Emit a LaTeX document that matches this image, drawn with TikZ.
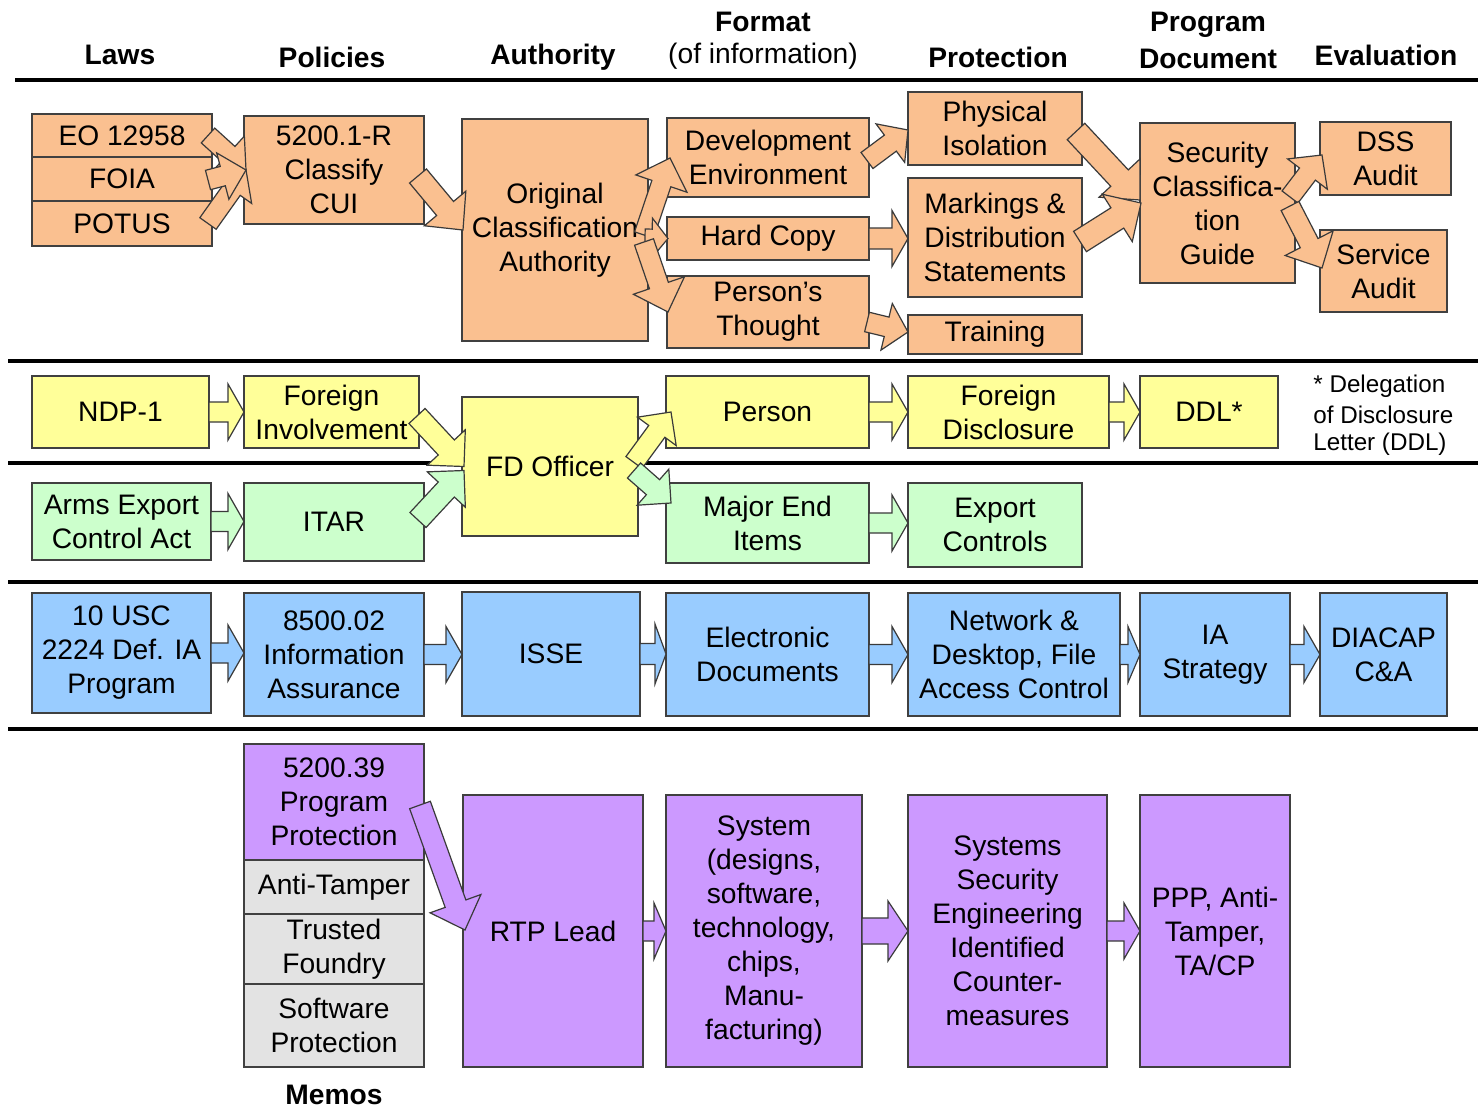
\documentclass[tikz,border=0pt]{standalone}
\usepackage{fontspec}
\setmainfont{Liberation Sans}
\usetikzlibrary{calc}

\definecolor{cOrange}{HTML}{FAC090}
\definecolor{cYellow}{HTML}{FFFF99}
\definecolor{cGreen}{HTML}{CCFFCC}
\definecolor{cBlue}{HTML}{99CCFF}
\definecolor{cPurple}{HTML}{CC99FF}
\definecolor{cGray}{HTML}{E3E3E3}
\definecolor{cEdge}{HTML}{404040}

\newcommand\boxfont{\fontsize{14.1pt}{17pt}\selectfont}
\newcommand\notefont{\fontsize{12.1pt}{14.5pt}\selectfont}

\tikzset{
  box/.style={draw=cEdge, line width=0.8pt, inner sep=0pt, outer sep=0pt,
              align=center, font=\boxfont},
  obox/.style={box, fill=cOrange},
  ybox/.style={box, fill=cYellow},
  gbox/.style={box, fill=cGreen},
  bbox/.style={box, fill=cBlue},
  pbox/.style={box, fill=cPurple},
  greybox/.style={box, fill=cGray},
  hdr/.style={font=\boxfont\bfseries, inner sep=0pt},
  hdrplain/.style={font=\boxfont, inner sep=0pt},
  notetext/.style={font=\notefont, inner sep=0pt, anchor=west},
  rule/.style={line width=1.6pt, black},
  arrowline/.style={draw=cEdge!90!black, line width=0.6pt, line join=miter}
}

% box by its corners, in pixel units: name, style, x1, y1, x2, y2, text
\newcommand\cbox[7]{%
  \node[#2, minimum width={(#5-#3)*0.5pt}, minimum height={(#6-#4)*0.5pt}]
    (#1) at ({(#3+#5)/2},{(#4+#6)/2}) {#7};}

% block arrow: fill, start, tip, shaft half width, head half width, head length
\newcommand\barrow[6]{%
  \path #2 coordinate (ba-s) #3 coordinate (ba-e);
  \path ($(ba-e)!#6!(ba-s)$) coordinate (ba-n);
  \draw[arrowline, fill=#1]
    ($(ba-s)!#4!90:(ba-e)$) -- ($(ba-n)!#4!90:(ba-e)$) --
    ($(ba-n)!#5!90:(ba-e)$) -- (ba-e) --
    ($(ba-n)!#5!-90:(ba-e)$) -- ($(ba-n)!#4!-90:(ba-e)$) --
    ($(ba-s)!#4!-90:(ba-e)$) -- cycle;}

% straight horizontal block arrow between two boxes
\newcommand\harrow[3]{\barrow{#1}{(#2.east)}{(#3.west |- #2.east)}{5pt}{14pt}{8pt}}

\begin{document}
\begin{tikzpicture}[x=0.5pt, y=-0.5pt]
\useasboundingbox[fill=white] (0,0) rectangle (1478,1108);

% column headings
\node[hdr] (hLaws) at (120,55) {Laws};
\node[hdr] (hPol) at (332,57) {Policies};
\node[hdr] (hAuth) at (553,57) {Authority};
\node[hdr] (hFmt) at (763,22) {Format};
\node[hdrplain] (hFmt2) at (763,56) {(of information)};
\node[hdr] (hProt) at (998,57) {Protection};
\node[hdr] (hProg) at (1208,25) {Program};
\node[hdr] (hDoc) at (1208,59) {Document};
\node[hdr] (hEval) at (1386,55) {Evaluation};

% row separators
\draw[rule, line width=1.9pt] (15,80) -- (1478,80);
\draw[rule] (8,361) -- (1478,361);
\draw[rule] (8,463) -- (1478,463);
\draw[rule] (8,582) -- (1478,582);
\draw[rule] (8,729) -- (1478,729);

% classification row
\cbox{eo}{obox}{32}{114}{212}{157}{EO 12958}
\cbox{foia}{obox}{32}{157}{212}{201}{FOIA}
\cbox{potus}{obox}{32}{201}{212}{246}{POTUS}
\cbox{cui}{obox}{244}{116}{424}{224}{5200.1-R\\Classify\\CUI}
\cbox{oca}{obox}{462}{119}{648}{341}{Original\\Classification\\Authority}
\cbox{dev}{obox}{667}{118}{869}{197}{Development\\Environment}
\cbox{hard}{obox}{667}{217}{869}{260}{Hard Copy}
\cbox{thought}{obox}{667}{276}{869}{348}{Person’s\\Thought}
\cbox{phys}{obox}{908}{92}{1082}{165}{Physical\\Isolation}
\cbox{mark}{obox}{908}{178}{1082}{297}{Markings \&\\Distribution\\Statements}
\cbox{train}{obox}{908}{315}{1082}{354}{Training}
\cbox{scg}{obox}{1140}{123}{1295}{283}{Security\\Classifica-\\tion\\Guide}
\cbox{dss}{obox}{1320}{122}{1451}{195}{DSS\\Audit}
\cbox{svc}{obox}{1320}{230}{1447}{312}{Service\\Audit}

% foreign disclosure row
\cbox{ndp}{ybox}{32}{376}{209}{448}{NDP-1}
\cbox{finv}{ybox}{244}{376}{419}{448}{Foreign\\Involvement}
\cbox{fdo}{ybox}{462}{397}{638}{536}{FD Officer}
\cbox{person}{ybox}{666}{376}{869}{448}{Person}
\cbox{fdisc}{ybox}{908}{376}{1109}{448}{Foreign\\Disclosure}
\cbox{ddl}{ybox}{1140}{376}{1278}{448}{DDL*}
\node[notetext] (n1) at (1313,386) {* Delegation};
\node[notetext] (n2) at (1313,415) {of Disclosure};
\node[notetext] (n3) at (1313,444) {Letter (DDL)};

% export control row
\cbox{arms}{gbox}{32}{483}{211}{560}{Arms Export\\Control Act}
\cbox{itar}{gbox}{244}{483}{424}{561}{ITAR}
\cbox{major}{gbox}{666}{483}{869}{563}{Major End\\Items}
\cbox{exp}{gbox}{908}{483}{1082}{567}{Export\\Controls}

% information assurance row
\cbox{usc}{bbox}{32}{593}{211}{713}{10 USC\\2224 Def. IA\\Program}
\cbox{dod}{bbox}{244}{593}{424}{716}{8500.02\\Information\\Assurance}
\cbox{isse}{bbox}{462}{592}{640}{716}{ISSE}
\cbox{edoc}{bbox}{666}{593}{869}{716}{Electronic\\Documents}
\cbox{net}{bbox}{908}{593}{1120}{716}{Network \&\\Desktop, File\\Access Control}
\cbox{ias}{bbox}{1140}{593}{1290}{716}{IA\\Strategy}
\cbox{diacap}{bbox}{1320}{593}{1447}{716}{DIACAP\\C\&A}

% program protection row
\cbox{pp}{pbox}{244}{744}{424}{860}{5200.39\\Program\\Protection}
\cbox{at}{greybox}{244}{860}{424}{914}{Anti-Tamper}
\cbox{tf}{greybox}{244}{914}{424}{984}{Trusted\\Foundry}
\cbox{sp}{greybox}{244}{984}{424}{1067}{Software\\Protection}
\node[hdr] (memos) at (334,1095) {Memos};
\cbox{rtp}{pbox}{463}{795}{643}{1067}{RTP Lead}
\cbox{sys}{pbox}{666}{795}{862}{1067}{System\\(designs,\\software,\\technology,\\chips,\\Manu-\\facturing)}
\cbox{sse}{pbox}{908}{795}{1107}{1067}{Systems\\Security\\Engineering\\Identified\\Counter-\\measures}
\cbox{ppp}{pbox}{1140}{795}{1290}{1067}{PPP, Anti-\\Tamper,\\TA/CP}

% classification flow
\barrow{cOrange}{($(eo.east)+(-4,0)$)}{($(cui.west)+(2,0)$)}{5pt}{12pt}{12pt}
\barrow{cOrange}{($(potus.east)+(-4,0)$)}{($(cui.west)+(2,0)$)}{5pt}{12pt}{12pt}
\barrow{cOrange}{($(foia.east)+(-4,1)$)}{($(cui.west)+(2,0)$)}{5pt}{12pt}{12pt}
\barrow{cOrange}{($(cui.east)+(-6,6)$)}{($(oca.west)+(1,0)$)}{5.5pt}{13.5pt}{14pt}
\barrow{cOrange}{($(oca.east)+(-4,5)$)}{($(dev.west)+(3,0.5)$)}{5pt}{13.5pt}{13.5pt}
\barrow{cOrange}{($(oca.east)+(-3,8)$)}{($(hard.west)+(1,0)$)}{4.5pt}{10pt}{8pt}
\barrow{cOrange}{($(oca.east)+(-4,12)$)}{($(thought.west)+(1,0)$)}{5pt}{13.5pt}{14pt}
\barrow{cOrange}{($(dev.east)+(-2,3)$)}{($(phys.west)+(0,1.5)$)}{5pt}{12pt}{11pt}
\barrow{cOrange}{(hard.east)}{(mark.west |- hard.east)}{5.25pt}{14pt}{8pt}
\barrow{cOrange}{($(thought.east)+(-2,10)$)}{($(train.west)+(0,-2.5)$)}{5pt}{12pt}{11pt}
\barrow{cOrange}{($(phys.east)+(-6,3)$)}{($(scg.west)+(0,-3)$)}{6pt}{14pt}{15pt}
\barrow{cOrange}{($(mark.east)+(-2,4)$)}{($(scg.west)+(1,0)$)}{6pt}{14pt}{14pt}
\barrow{cOrange}{($(scg.east)+(-5,-6)$)}{($(dss.west)+(2,-3.5)$)}{5pt}{12.5pt}{12pt}
\barrow{cOrange}{($(scg.east)+(-5,3)$)}{($(svc.west)+(2,-3)$)}{5pt}{13.5pt}{14pt}

% foreign disclosure and export flow
\harrow{cYellow}{ndp}{finv}
\barrow{cYellow}{($(finv.east)+(-2,4)$)}{($(fdo.west)+(2,0)$)}{5.5pt}{13pt}{13pt}
\barrow{cGreen}{($(itar.east)+(-6,-2)$)}{($(fdo.west)+(2,4)$)}{5.5pt}{13pt}{13pt}
\barrow{cYellow}{($(fdo.east)+(-4,-4)$)}{($(person.west)+(5,0)$)}{5pt}{12pt}{12pt}
\barrow{cGreen}{($(fdo.east)+(-4,4)$)}{($(major.west)+(5,-20)$)}{5pt}{12pt}{12pt}
\harrow{cYellow}{person}{fdisc}
\harrow{cYellow}{fdisc}{ddl}
\harrow{cGreen}{arms}{itar}
\harrow{cGreen}{major}{exp}

% information assurance flow
\harrow{cBlue}{usc}{dod}
\harrow{cBlue}{dod}{isse}
\barrow{cBlue}{(isse.east)}{(edoc.west |- isse.east)}{5.25pt}{15pt}{5.5pt}
\harrow{cBlue}{edoc}{net}
\barrow{cBlue}{(net.east)}{(ias.west |- net.east)}{5pt}{14pt}{6pt}
\harrow{cBlue}{ias}{diacap}

% program protection flow
\barrow{cPurple}{($(pp.east)+(-4,3)$)}{($(rtp.west)+(2,-1)$)}{5.5pt}{13.5pt}{14pt}
\barrow{cPurple}{(rtp.east)}{(sys.west |- rtp.east)}{5pt}{14pt}{6pt}
\barrow{cPurple}{(sys.east)}{(sse.west |- sys.east)}{6.5pt}{15pt}{10pt}
\harrow{cPurple}{sse}{ppp}
\end{tikzpicture}
\end{document}
